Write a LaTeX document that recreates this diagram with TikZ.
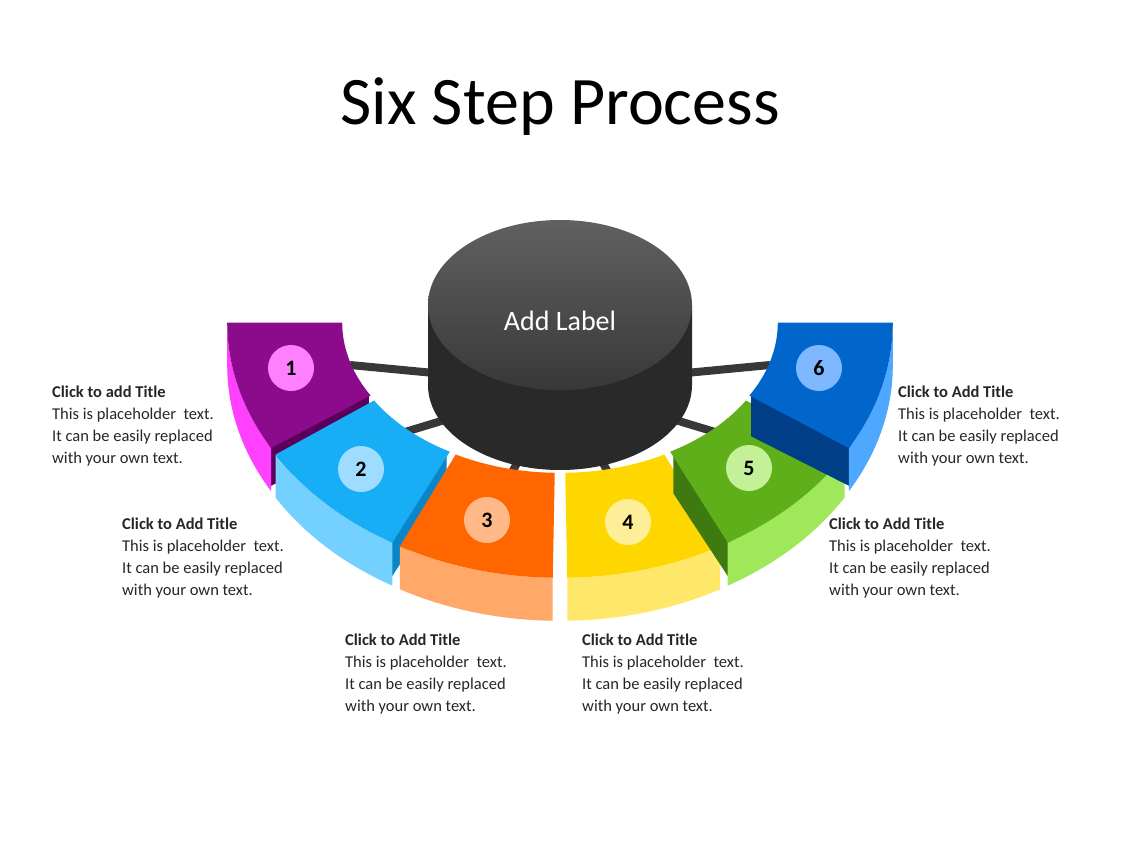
\documentclass[tikz,border=0pt]{standalone}
\usepackage{fontspec}
\setmainfont{Carlito}
\begin{document}
\begin{tikzpicture}[x=1pt,y=-1pt,
  blk/.style={anchor=north west,align=left,font=\fontsize{16.5}{22}\selectfont,text=black!85,inner sep=0pt},
  num/.style={circle,minimum size=46pt,inner sep=0pt,font=\fontsize{22}{22}\selectfont\bfseries},
  spoke/.style={line width=8pt,color=black!78}]
\useasboundingbox (0,0) rectangle (1128,846);
\definecolor{c1t}{HTML}{8C0A8C}\definecolor{c1w}{HTML}{FF40FF}\definecolor{c1e}{HTML}{5A005A}\definecolor{c1n}{HTML}{FF80FF}
\definecolor{c2t}{HTML}{18AEF5}\definecolor{c2w}{HTML}{74D0FF}\definecolor{c2e}{HTML}{0A86C8}\definecolor{c2n}{HTML}{A0DCFF}
\definecolor{c3t}{HTML}{FF6600}\definecolor{c3w}{HTML}{FFA86A}\definecolor{c3n}{HTML}{FFB888}
\definecolor{c4t}{HTML}{FFD700}\definecolor{c4w}{HTML}{FFE76A}\definecolor{c4n}{HTML}{FFEE98}
\definecolor{c5t}{HTML}{5EAF1A}\definecolor{c5w}{HTML}{9EE85A}\definecolor{c5e}{HTML}{3E7A10}\definecolor{c5n}{HTML}{C4F098}
\definecolor{c6t}{HTML}{0066CC}\definecolor{c6w}{HTML}{4FA8FF}\definecolor{c6e}{HTML}{003F88}\definecolor{c6n}{HTML}{80B8FF}
\node[font=\fontsize{68}{68}\selectfont] (title) at (560,107) {Six Step Process};
% spokes
\coordinate (hub) at (560,385);
\foreach \p in {(350,365),(405,432),(505,485),(615,485),(715,432),(770,365)}
  \draw[spoke] (hub) -- \p;
% segments
\foreach \a/\b/\e/\tc/\wc/\ec in {180/150/151/c1t/c1w/c1e,149/120/121/c2t/c2w/c2e,119/91/92/c3t/c3w/c3w,89/61/88/c4t/c4w/c4w,60/31/59/c5t/c5w/c5e,30/0/29/c6t/c6w/c6e}{
  \pgfmathsetmacro\m{(\a+\b)/2}
  \begin{scope}[shift={({6*cos(\m)},{6*sin(\m)})}]
    \fill[\ec] ({560+327*cos(\e)},{321+251*sin(\e)}) -- ({560+212*cos(\e)},{321+146*sin(\e)}) -- ({560+212*cos(\e)},{364+146*sin(\e)}) -- ({560+327*cos(\e)},{364+251*sin(\e)}) -- cycle;
    \fill[\wc] plot[domain=\a:\b,samples=25,smooth] ({560+327*cos(\x)},{321+251*sin(\x)}) -- plot[domain=\b:\a,samples=25,smooth] ({560+327*cos(\x)},{364+251*sin(\x)}) -- cycle;
    \fill[\tc] plot[domain=\a:\b,samples=25,smooth] ({560+327*cos(\x)},{321+251*sin(\x)}) -- plot[domain=\b:\a,samples=25,smooth] ({560+212*cos(\x)},{321+146*sin(\x)}) -- cycle;
  \end{scope}
}
\node[num,fill=c1n] (n1) at (291,368) {1};
\node[num,fill=c2n] (n2) at (361,469) {2};
\node[num,fill=c3n] (n3) at (487,520) {3};
\node[num,fill=c4n] (n4) at (628,522) {4};
\node[num,fill=c5n] (n5) at (749,468) {5};
\node[num,fill=c6n] (n6) at (819,368) {6};
% cylinder
\fill[black!84] (428,305) -- (428,385) arc[start angle=180,end angle=0,x radius=132,y radius=85] -- (692,305) -- cycle;
\shade[top color=black!62,bottom color=black!78] (560,305) ellipse[x radius=132,y radius=85];
\node[text=white,font=\fontsize{28}{28}\selectfont] (lab) at (560,321) {Add Label};
% text blocks
\node[blk] (t1) at (52,386) {\textbf{Click to add Title}\\This is placeholder\ \ text.\\It can be easily replaced\\with your own text.};
\node[blk] (t2) at (122,518) {\textbf{Click to Add Title}\\This is placeholder\ \ text.\\It can be easily replaced\\with your own text.};
\node[blk] (t3) at (345,634) {\textbf{Click to Add Title}\\This is placeholder\ \ text.\\It can be easily replaced\\with your own text.};
\node[blk] (t4) at (582,634) {\textbf{Click to Add Title}\\This is placeholder\ \ text.\\It can be easily replaced\\with your own text.};
\node[blk] (t5) at (829,518) {\textbf{Click to Add Title}\\This is placeholder\ \ text.\\It can be easily replaced\\with your own text.};
\node[blk] (t6) at (898,386) {\textbf{Click to Add Title}\\This is placeholder\ \ text.\\It can be easily replaced\\with your own text.};
\end{tikzpicture}
\end{document}
